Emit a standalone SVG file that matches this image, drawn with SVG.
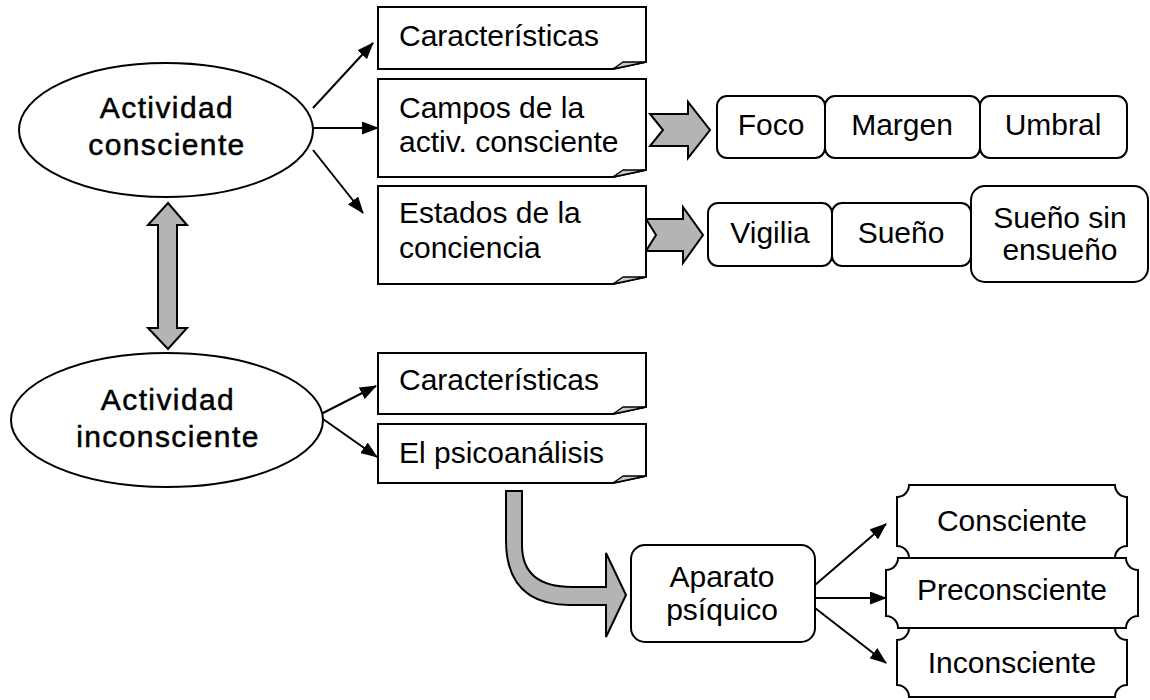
<svg xmlns="http://www.w3.org/2000/svg" width="1150" height="700" viewBox="0 0 1150 700">
<style>
text{font-family:"Liberation Sans",Arial,sans-serif;font-size:30px;fill:#000}
.c{text-anchor:middle}
.e{letter-spacing:1.4px;stroke:#000;stroke-width:0.5px}
.shape{fill:#fff;stroke:#000;stroke-width:2}
.fold{fill:#c8c8c8;stroke:#000;stroke-width:1.5;stroke-linejoin:round}
.blk{fill:#b4b4b4;stroke:#000;stroke-width:2;stroke-linejoin:miter}
.ln{stroke:#000;stroke-width:2;fill:none;marker-end:url(#ah)}
</style>
<defs>
<marker id="ah" markerUnits="userSpaceOnUse" markerWidth="17" markerHeight="13" refX="16" refY="6.5" orient="auto">
<path d="M0,0 L17,6.5 L0,13 Z" fill="#000"/>
</marker>
</defs>
<rect width="1150" height="700" fill="#fff"/>

<g id="connectors">
<line class="ln" x1="313" y1="108" x2="373" y2="43"/>
<line class="ln" x1="313" y1="128" x2="378" y2="128"/>
<line class="ln" x1="313" y1="150" x2="363" y2="213"/>
<line class="ln" x1="323" y1="413" x2="376" y2="386"/>
<line class="ln" x1="323" y1="419" x2="377" y2="457"/>
<line class="ln" x1="815" y1="585" x2="886" y2="524"/>
<line class="ln" x1="815" y1="598" x2="886" y2="598"/>
<line class="ln" x1="815" y1="608" x2="886" y2="663"/>
<path id="dbl" class="blk" d="M168,203 L187,225 L177,225 L177,328 L187,328 L168,349 L148,328 L158,328 L158,225 L148,225 Z"/>
<path id="blk1" class="blk" d="M650,114 L688,114 L688,102 L710,130 L688,158 L688,146 L650,146 L663,130 Z"/>
<path id="blk2" class="blk" d="M646,219 L683,219 L683,207 L703,235 L683,263 L683,251 L646,251 L656,235 Z"/>
<path id="curved" class="blk" d="M506,491 L506,540 Q506,605 570,605 L606,605 L606,637 L626,595 L606,553 L606,587 L572,587 Q522,587 522,545 L522,491 Z"/>
</g>

<g id="actividad-consciente">
<ellipse class="shape" cx="166" cy="130" rx="147" ry="67"/>
<text class="c e" x="167" y="118">Actividad</text>
<text class="c e" x="167" y="155">consciente</text>
</g>
<g id="actividad-inconsciente">
<ellipse class="shape" cx="167" cy="420" rx="156" ry="67"/>
<text class="c e" x="168" y="410">Actividad</text>
<text class="c e" x="168" y="447">inconsciente</text>
</g>

<g id="caracteristicas1">
<path class="shape" d="M378,7 H646 V62 L613,69 H378 Z"/>
<path class="fold" d="M613,69 L623,62 L646,62 Z"/>
<text x="399" y="46">Características</text>
</g>
<g id="campos">
<path class="shape" d="M378,79 H646 V170 L613,177 H378 Z"/>
<path class="fold" d="M613,177 L623,170 L646,170 Z"/>
<text x="399" y="118">Campos de la</text>
<text x="399" y="152">activ. consciente</text>
</g>
<g id="estados">
<path class="shape" d="M378,186 H646 V277 L613,284 H378 Z"/>
<path class="fold" d="M613,284 L623,277 L646,277 Z"/>
<text x="399" y="223">Estados de la</text>
<text x="399" y="258">conciencia</text>
</g>
<g id="caracteristicas2">
<path class="shape" d="M378,353 H646 V407 L613,414 H378 Z"/>
<path class="fold" d="M613,414 L623,407 L646,407 Z"/>
<text x="399" y="390">Características</text>
</g>
<g id="psicoanalisis">
<path class="shape" d="M378,424 H646 V476 L613,483 H378 Z"/>
<path class="fold" d="M613,483 L623,476 L646,476 Z"/>
<text x="399" y="463">El psicoanálisis</text>
</g>

<g id="foco"><rect class="shape" x="717" y="96" width="108" height="62" rx="10"/><text class="c" x="771" y="135">Foco</text></g>
<g id="margen"><rect class="shape" x="825" y="96" width="155" height="62" rx="10"/><text class="c" x="902" y="135">Margen</text></g>
<g id="umbral"><rect class="shape" x="980" y="96" width="147" height="62" rx="10"/><text class="c" x="1053" y="135">Umbral</text></g>

<g id="vigilia"><rect class="shape" x="708" y="203" width="124" height="63" rx="10"/><text class="c" x="770" y="243">Vigilia</text></g>
<g id="sueno"><rect class="shape" x="832" y="203" width="139" height="63" rx="10"/><text class="c" x="901" y="243">Sueño</text></g>
<g id="sueno-sin"><rect class="shape" x="971" y="186" width="177" height="96" rx="14"/><text class="c" x="1060" y="228">Sueño sin</text><text class="c" x="1060" y="260">ensueño</text></g>

<g id="aparato"><rect class="shape" x="631" y="545" width="184" height="97" rx="14"/><text class="c" x="722" y="587">Aparato</text><text class="c" x="722" y="620">psíquico</text></g>

<g id="consciente">
<path class="shape" d="M909,485 H1115 A12,12 0 0 0 1127,497 V546 A12,12 0 0 0 1115,558 H909 A12,12 0 0 0 897,546 V497 A12,12 0 0 0 909,485 Z"/>
<text class="c" x="1012" y="531">Consciente</text>
</g>
<g id="preconsciente">
<path class="shape" d="M898,558 H1126 A12,12 0 0 0 1138,570 V616 A12,12 0 0 0 1126,628 H898 A12,12 0 0 0 886,616 V570 A12,12 0 0 0 898,558 Z"/>
<text class="c" x="1012" y="600">Preconsciente</text>
</g>
<g id="inconsciente">
<path class="shape" d="M909,628 H1115 A12,12 0 0 0 1127,640 V685 A12,12 0 0 0 1115,697 H909 A12,12 0 0 0 897,685 V640 A12,12 0 0 0 909,628 Z"/>
<text class="c" x="1012" y="673">Inconsciente</text>
</g>
</svg>
